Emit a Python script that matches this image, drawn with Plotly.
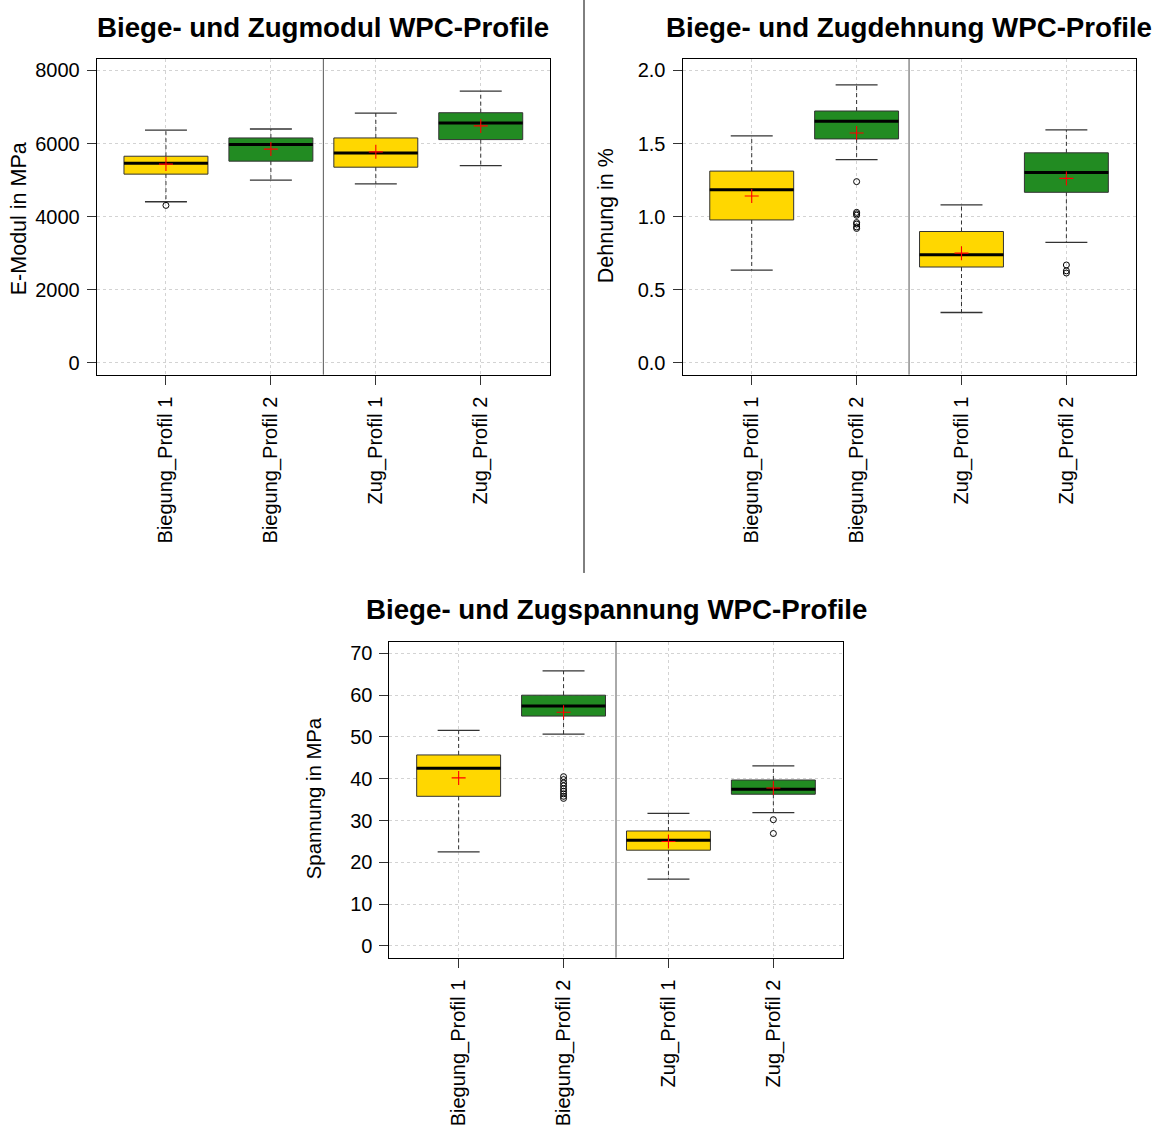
import plotly.graph_objects as go

W, H = 1158, 1126

# ---------------- data ----------------
categories = ["Biegung_Profil 1", "Biegung_Profil 2", "Zug_Profil 1", "Zug_Profil 2"]
box_colors = ["#FFD700", "#228B22", "#FFD700", "#228B22"]

# E-Modul in MPa
modul_lo = [4410, 5000, 4900, 5400]
modul_q1 = [5165, 5520, 5355, 6110]
modul_med = [5465, 5975, 5740, 6565]
modul_q3 = [5655, 6155, 6155, 6845]
modul_hi = [6370, 6400, 6835, 7435]
modul_mean = [5440, 5850, 5775, 6485]
modul_out = [[4310], [], [], []]
modul_ticks = [0, 2000, 4000, 6000, 8000]

# Dehnung in %
dehn_lo = [0.635, 1.39, 0.345, 0.825]
dehn_q1 = [0.978, 1.532, 0.656, 1.167]
dehn_med = [1.185, 1.653, 0.740, 1.303]
dehn_q3 = [1.312, 1.723, 0.899, 1.437]
dehn_hi = [1.553, 1.902, 1.081, 1.594]
dehn_mean = [1.142, 1.573, 0.751, 1.262]
dehn_out = [[], [1.24, 1.03, 1.02, 1.01, 0.96, 0.95, 0.93, 0.92], [], [0.67, 0.63, 0.615]]
dehn_ticks = [0.0, 0.5, 1.0, 1.5, 2.0]
dehn_ticktext = ["0.0", "0.5", "1.0", "1.5", "2.0"]

# Spannung in MPa
span_lo = [22.5, 50.7, 16.0, 31.9]
span_q1 = [35.8, 55.0, 22.9, 36.3]
span_med = [42.5, 57.4, 25.3, 37.5]
span_q3 = [45.7, 60.0, 27.5, 39.7]
span_hi = [51.6, 65.8, 31.7, 43.1]
span_mean = [40.2, 55.9, 25.0, 37.8]
span_out = [[], [40.5, 39.8, 39.0, 38.3, 37.6, 37.0, 36.4, 35.8, 35.3], [], [30.2, 26.9]]
span_ticks = [0, 10, 20, 30, 40, 50, 60, 70]

titles = ["Biege- und Zugmodul WPC-Profile",
          "Biege- und Zugdehnung WPC-Profile",
          "Biege- und Zugspannung WPC-Profile"]
ytitles = ["E-Modul in MPa", "Dehnung in %", "Spannung in MPa"]

# ---------------- layout helpers ----------------
FONT = "Liberation Sans, Arial, Helvetica, sans-serif"
BORDER = "#333333"

def px_x(p):
    return p / W

def px_y(p):
    return 1 - p / H

panels = [
    dict(lo=modul_lo, q1=modul_q1, med=modul_med, q3=modul_q3, hi=modul_hi, mean=modul_mean,
         out=modul_out, ticks=modul_ticks, ticktext=[str(t) for t in modul_ticks],
         yrange=[-320, 8320], xdom=(96.7, 550.0), ydom=(59.0, 376.0),
         title_xy=(323, 28), ytitle_xy=(19, 220), ytitle_size=21.5),
    dict(lo=dehn_lo, q1=dehn_q1, med=dehn_med, q3=dehn_q3, hi=dehn_hi, mean=dehn_mean,
         out=dehn_out, ticks=dehn_ticks, ticktext=dehn_ticktext,
         yrange=[-0.08, 2.08], xdom=(682.5, 1135.6), ydom=(59.0, 376.0),
         title_xy=(909, 28), ytitle_xy=(606, 217), ytitle_size=21.5),
    dict(lo=span_lo, q1=span_q1, med=span_med, q3=span_q3, hi=span_hi, mean=span_mean,
         out=span_out, ticks=span_ticks, ticktext=[str(t) for t in span_ticks],
         yrange=[-2.8, 72.8], xdom=(389.4, 842.6), ydom=(644.0, 961.0),
         title_xy=(616, 612), ytitle_xy=(314, 801), ytitle_size=20.3),
]

fig = go.Figure()
layout_axes = {}
annotations = []
shapes = []

for k, p in enumerate(panels):
    sfx = "" if k == 0 else str(k + 1)
    xa, ya = "x" + sfx, "y" + sfx
    for i in range(len(categories)):
        pos = i + 1
        # dashed whiskers
        fig.add_trace(go.Scatter(
            x=[pos, pos, None, pos, pos],
            y=[p["q3"][i], p["hi"][i], None, p["q1"][i], p["lo"][i]],
            mode="lines", line=dict(color=BORDER, width=1, dash="4px,3px"),
            xaxis=xa, yaxis=ya, showlegend=False, hoverinfo="skip"))
        # whisker caps
        fig.add_trace(go.Scatter(
            x=[pos - 0.2, pos + 0.2, None, pos - 0.2, pos + 0.2],
            y=[p["hi"][i], p["hi"][i], None, p["lo"][i], p["lo"][i]],
            mode="lines", line=dict(color=BORDER, width=1.3),
            xaxis=xa, yaxis=ya, showlegend=False, hoverinfo="skip"))
        # box body
        fig.add_trace(go.Box(
            x=[pos], q1=[p["q1"][i]], median=[p["med"][i]], q3=[p["q3"][i]],
            lowerfence=[p["q1"][i]], upperfence=[p["q3"][i]],
            width=0.8, whiskerwidth=0, fillcolor=box_colors[i],
            line=dict(color=BORDER, width=1), boxpoints=False,
            name=categories[i], xaxis=xa, yaxis=ya, showlegend=False))
        # thick median
        fig.add_trace(go.Scatter(
            x=[pos - 0.4, pos + 0.4], y=[p["med"][i], p["med"][i]],
            mode="lines", line=dict(color="black", width=3),
            xaxis=xa, yaxis=ya, showlegend=False, hoverinfo="skip"))
        # outliers
        if p["out"][i]:
            fig.add_trace(go.Scatter(
                x=[pos] * len(p["out"][i]), y=p["out"][i], mode="markers",
                marker=dict(symbol="circle-open", size=6, color="black", line=dict(width=1)),
                xaxis=xa, yaxis=ya, showlegend=False))
        # mean
        fig.add_trace(go.Scatter(
            x=[pos], y=[p["mean"][i]], mode="markers",
            marker=dict(symbol="cross-thin-open", size=10, color="red", line=dict(width=1.1, color="red")),
            xaxis=xa, yaxis=ya, showlegend=False))

    common = dict(showline=True, linecolor="black", linewidth=1, mirror=True,
                  ticks="outside", ticklen=9, tickcolor="#333333", tickwidth=1,
                  showgrid=True, gridcolor="#d3d3d3", griddash="dot", gridwidth=1,
                  zeroline=False, tickfont=dict(family=FONT, size=20, color="black"))
    layout_axes["xaxis" + sfx] = dict(
        common, domain=[px_x(p["xdom"][0]), px_x(p["xdom"][1])], range=[0.34, 4.66],
        tickmode="array", tickvals=[1, 2, 3, 4], ticktext=categories, tickangle=-90,
        anchor=ya, ticklabelstandoff=4)
    layout_axes["yaxis" + sfx] = dict(
        common, domain=[px_y(p["ydom"][1]), px_y(p["ydom"][0])], range=p["yrange"],
        tickmode="array", tickvals=p["ticks"], ticktext=p["ticktext"], anchor=xa,
        ticklabelstandoff=3)
    # separator between Biegung and Zug
    shapes.append(dict(type="line", xref=xa, yref=ya + " domain", x0=2.5, x1=2.5, y0=0, y1=1,
                       line=dict(color="#555555", width=1)))
    annotations.append(dict(text="<b>" + titles[k] + "</b>", xref="paper", yref="paper",
                            x=px_x(p["title_xy"][0]), y=px_y(p["title_xy"][1]),
                            xanchor="center", yanchor="middle", showarrow=False,
                            font=dict(family=FONT, size=27.7, color="black")))
    annotations.append(dict(text=ytitles[k], xref="paper", yref="paper",
                            x=px_x(p["ytitle_xy"][0]), y=px_y(p["ytitle_xy"][1]),
                            xanchor="center", yanchor="middle", showarrow=False, textangle=-90,
                            font=dict(family=FONT, size=p["ytitle_size"], color="black")))

# divider between the two upper panels
shapes.append(dict(type="line", xref="paper", yref="paper", x0=px_x(584), x1=px_x(584),
                   y0=px_y(575), y1=1, line=dict(color="black", width=1)))

fig.update_layout(
    width=W, height=H, margin=dict(l=0, r=0, t=0, b=0),
    paper_bgcolor="white", plot_bgcolor="white",
    boxmode="overlay", showlegend=False,
    annotations=annotations, shapes=shapes,
    font=dict(family=FONT, size=20, color="black"),
    **layout_axes)

fig.write_html("out.html")
